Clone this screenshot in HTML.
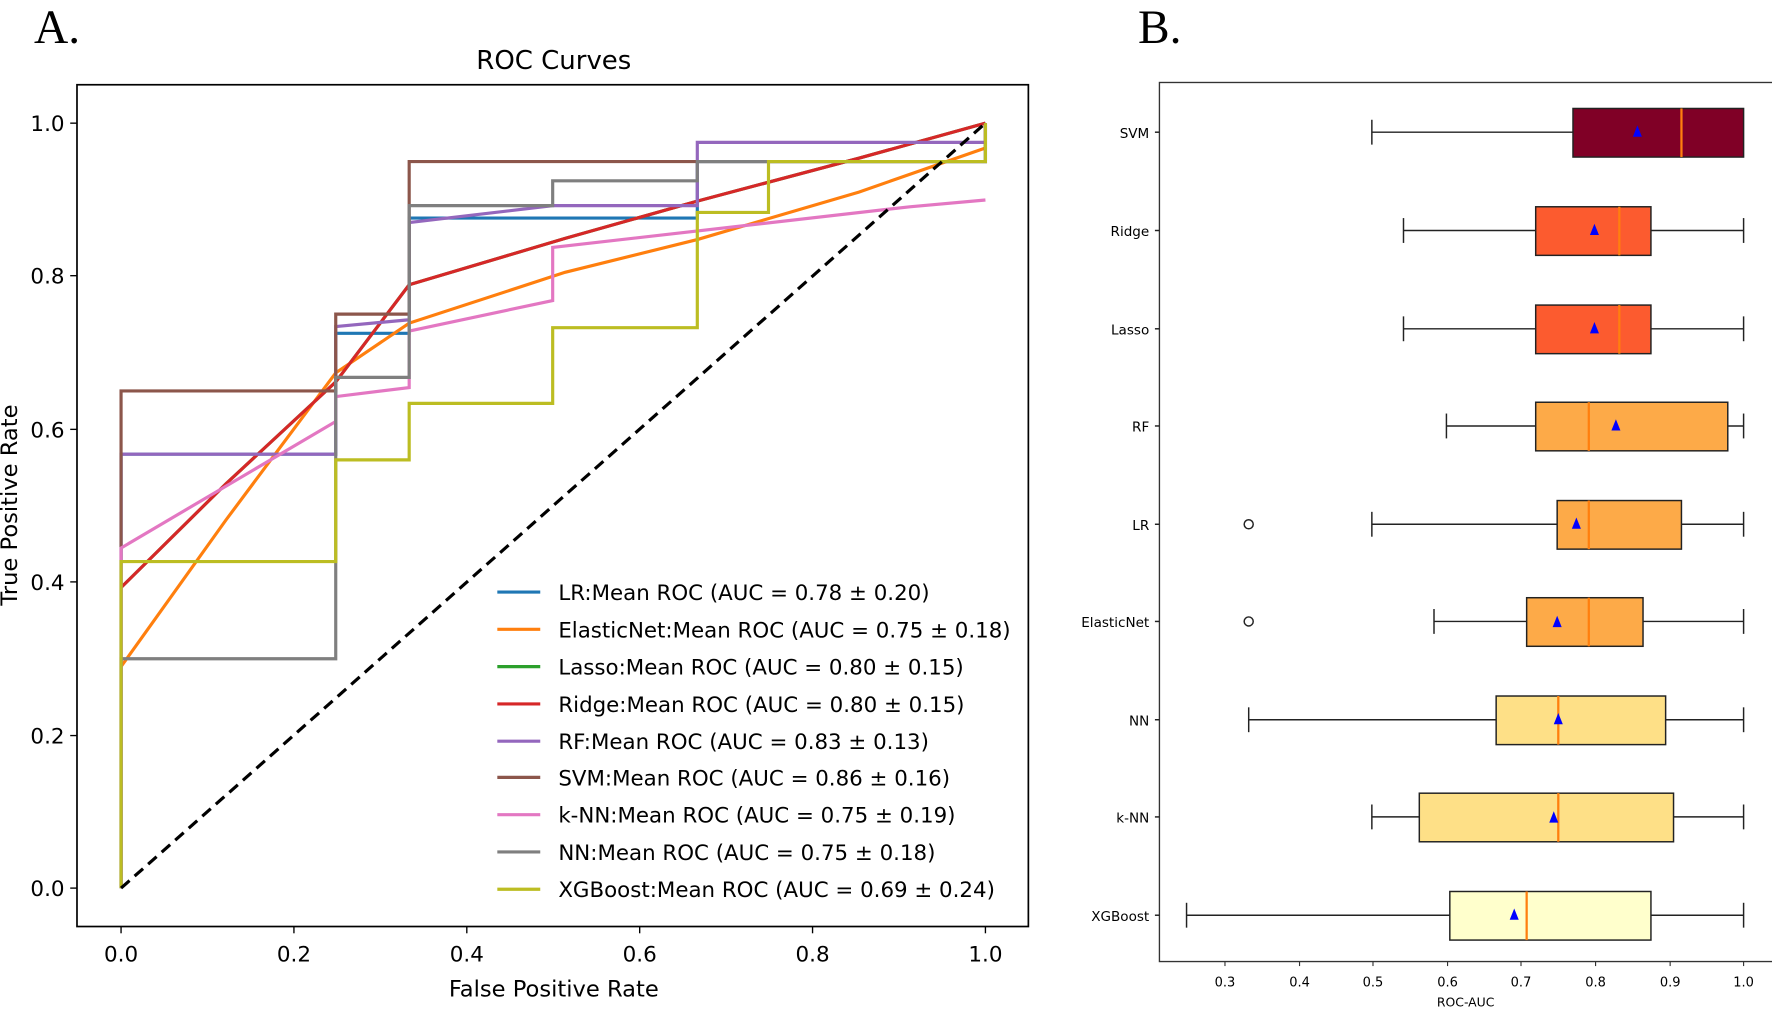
<!DOCTYPE html>
<html><head><meta charset="utf-8"><style>html,body{margin:0;padding:0;background:#fff}svg{display:block}</style></head>
<body>
<svg width="1772" height="1009" viewBox="0 0 1568 893" xmlns="http://www.w3.org/2000/svg" font-family="'DejaVu Sans','Liberation Sans',sans-serif">
<rect width="1568" height="893" fill="#fff"/>
<text x="30" y="38" font-family="'Liberation Serif',serif" font-size="42">A.</text>
<text x="1007" y="38" font-family="'Liberation Serif',serif" font-size="42">B.</text>
<!-- Left chart -->
<text x="490" y="61" font-size="23" text-anchor="middle">ROC Curves</text>
<g fill="none" stroke-width="2.8" stroke-linejoin="miter">
<path d="M107,786 V402 H297 V295 H362 V193 H617 V161 V143 H872 V109" stroke="#1f77b4"/>
<path d="M107,520 L200,428 L297,338 L362,252 L500,211 L617,178 L760,140 L872,109" stroke="#2ca02c"/>
<path d="M107,590 L200,460 L297,330 L362,286 L500,241 L617,212 L760,170 L872,131 V109" stroke="#ff7f0e"/>
<path d="M107,520 L200,428 L297,338 L362,252 L500,211 L617,178 L760,140 L872,109" stroke="#d62728"/>
<path d="M107,786 V402 H297 V289 L362,283 V197 L489,182 H617 V126 H872 V109" stroke="#9467bd"/>
<path d="M107,786 V346 H297 V278 H362 V143 H872 V109" stroke="#8c564b"/>
<path d="M107,786 V485 L297,373 V351 L362,343 V293 L489,266 V219 L805,183 L872,177" stroke="#e377c2"/>
<path d="M107,786 V583 H297 V334 H362 V182 H489 V160 H617 V143 H872 V109" stroke="#7f7f7f"/>
<path d="M107,786 V497 H297 V407 H362 V357 H489 V290 H617 V188 H680 V143 H872 V109" stroke="#bcbd22"/>
</g>
<line x1="107" y1="786" x2="872" y2="109" stroke="#000" stroke-width="2.8" stroke-dasharray="10,6"/>
<rect x="68" y="75" width="842" height="745" fill="none" stroke="#000" stroke-width="1.5"/>
<g stroke="#000" stroke-width="1.2">
<line x1="107" y1="820" x2="107" y2="826"/><line x1="260" y1="820" x2="260" y2="826"/><line x1="413" y1="820" x2="413" y2="826"/><line x1="566" y1="820" x2="566" y2="826"/><line x1="719" y1="820" x2="719" y2="826"/><line x1="872" y1="820" x2="872" y2="826"/>
<line x1="62" y1="786" x2="68" y2="786"/><line x1="62" y1="651" x2="68" y2="651"/><line x1="62" y1="515" x2="68" y2="515"/><line x1="62" y1="380" x2="68" y2="380"/><line x1="62" y1="244" x2="68" y2="244"/><line x1="62" y1="109" x2="68" y2="109"/>
</g>
<g font-size="19" text-anchor="middle">
<text x="107" y="851">0.0</text><text x="260" y="851">0.2</text><text x="413" y="851">0.4</text><text x="566" y="851">0.6</text><text x="719" y="851">0.8</text><text x="872" y="851">1.0</text>
</g>
<g font-size="19" text-anchor="end">
<text x="57" y="793">0.0</text><text x="57" y="658">0.2</text><text x="57" y="522">0.4</text><text x="57" y="387">0.6</text><text x="57" y="251">0.8</text><text x="57" y="116">1.0</text>
</g>
<text x="490" y="882" font-size="20" text-anchor="middle">False Positive Rate</text>
<text transform="translate(15,447) rotate(-90)" font-size="20" text-anchor="middle">True Positive Rate</text>
<g font-size="18.9" stroke-width="2.8">
<line x1="440" y1="524" x2="478" y2="524" stroke="#1f77b4"/><text x="494" y="531">LR:Mean ROC (AUC = 0.78 ± 0.20)</text>
<line x1="440" y1="557" x2="478" y2="557" stroke="#ff7f0e"/><text x="494" y="564">ElasticNet:Mean ROC (AUC = 0.75 ± 0.18)</text>
<line x1="440" y1="590" x2="478" y2="590" stroke="#2ca02c"/><text x="494" y="597">Lasso:Mean ROC (AUC = 0.80 ± 0.15)</text>
<line x1="440" y1="623" x2="478" y2="623" stroke="#d62728"/><text x="494" y="630">Ridge:Mean ROC (AUC = 0.80 ± 0.15)</text>
<line x1="440" y1="656" x2="478" y2="656" stroke="#9467bd"/><text x="494" y="663">RF:Mean ROC (AUC = 0.83 ± 0.13)</text>
<line x1="440" y1="688" x2="478" y2="688" stroke="#8c564b"/><text x="494" y="695">SVM:Mean ROC (AUC = 0.86 ± 0.16)</text>
<line x1="440" y1="721" x2="478" y2="721" stroke="#e377c2"/><text x="494" y="728">k-NN:Mean ROC (AUC = 0.75 ± 0.19)</text>
<line x1="440" y1="754" x2="478" y2="754" stroke="#7f7f7f"/><text x="494" y="761">NN:Mean ROC (AUC = 0.75 ± 0.18)</text>
<line x1="440" y1="787" x2="478" y2="787" stroke="#bcbd22"/><text x="494" y="794">XGBoost:Mean ROC (AUC = 0.69 ± 0.24)</text>
</g>
<!-- Right chart -->
<rect x="1026" y="73" width="545" height="778" fill="none" stroke="#333" stroke-width="1.2"/>
<g font-size="11.5" text-anchor="middle">
<text x="1084" y="873">0.3</text><text x="1150" y="873">0.4</text><text x="1215" y="873">0.5</text><text x="1281" y="873">0.6</text><text x="1346" y="873">0.7</text><text x="1412" y="873">0.8</text><text x="1478" y="873">0.9</text><text x="1543" y="873">1.0</text>
<text x="1297" y="891" font-size="11">ROC-AUC</text>
</g>
<g stroke="#333" stroke-width="1">
<line x1="1084" y1="851" x2="1084" y2="855"/><line x1="1150" y1="851" x2="1150" y2="855"/><line x1="1215" y1="851" x2="1215" y2="855"/><line x1="1281" y1="851" x2="1281" y2="855"/><line x1="1346" y1="851" x2="1346" y2="855"/><line x1="1412" y1="851" x2="1412" y2="855"/><line x1="1478" y1="851" x2="1478" y2="855"/><line x1="1543" y1="851" x2="1543" y2="855"/>
</g>
<g font-size="12" text-anchor="end">
<text x="1017" y="122">SVM</text><text x="1017" y="209">Ridge</text><text x="1017" y="296">Lasso</text><text x="1017" y="382">RF</text><text x="1017" y="469">LR</text><text x="1017" y="555">ElasticNet</text><text x="1017" y="642">NN</text><text x="1017" y="728">k-NN</text><text x="1017" y="815">XGBoost</text>
</g>
<g stroke="#222" stroke-width="1.3">
<g><line x1="1022" y1="117" x2="1026" y2="117"/><line x1="1214" y1="117" x2="1392" y2="117"/><line x1="1214" y1="106" x2="1214" y2="128"/><rect x="1392" y="96" width="151" height="43" fill="#800026"/><line x1="1488" y1="96" x2="1488" y2="139" stroke="#ff7f0e" stroke-width="2"/><polygon points="1449,111 1445,121 1453,121" fill="#0000ff" stroke="none"/></g>
<g><line x1="1022" y1="204" x2="1026" y2="204"/><line x1="1242" y1="204" x2="1359" y2="204"/><line x1="1461" y1="204" x2="1543" y2="204"/><line x1="1242" y1="193" x2="1242" y2="215"/><line x1="1543" y1="193" x2="1543" y2="215"/><rect x="1359" y="183" width="102" height="43" fill="#fc5b2f"/><line x1="1433" y1="183" x2="1433" y2="226" stroke="#ff7f0e" stroke-width="2"/><polygon points="1411,198 1407,208 1415,208" fill="#0000ff" stroke="none"/></g>
<g><line x1="1022" y1="291" x2="1026" y2="291"/><line x1="1242" y1="291" x2="1359" y2="291"/><line x1="1461" y1="291" x2="1543" y2="291"/><line x1="1242" y1="280" x2="1242" y2="302"/><line x1="1543" y1="280" x2="1543" y2="302"/><rect x="1359" y="270" width="102" height="43" fill="#fc5b2f"/><line x1="1433" y1="270" x2="1433" y2="313" stroke="#ff7f0e" stroke-width="2"/><polygon points="1411,285 1407,295 1415,295" fill="#0000ff" stroke="none"/></g>
<g><line x1="1022" y1="377" x2="1026" y2="377"/><line x1="1280" y1="377" x2="1359" y2="377"/><line x1="1529" y1="377" x2="1543" y2="377"/><line x1="1280" y1="366" x2="1280" y2="388"/><line x1="1543" y1="366" x2="1543" y2="388"/><rect x="1359" y="356" width="170" height="43" fill="#fdaa48"/><line x1="1406" y1="356" x2="1406" y2="399" stroke="#ff7f0e" stroke-width="2"/><polygon points="1430,371 1426,381 1434,381" fill="#0000ff" stroke="none"/></g>
<g><line x1="1022" y1="464" x2="1026" y2="464"/><circle cx="1105" cy="464" r="4" fill="none"/><line x1="1214" y1="464" x2="1378" y2="464"/><line x1="1488" y1="464" x2="1543" y2="464"/><line x1="1214" y1="453" x2="1214" y2="475"/><line x1="1543" y1="453" x2="1543" y2="475"/><rect x="1378" y="443" width="110" height="43" fill="#fdaa48"/><line x1="1406" y1="443" x2="1406" y2="486" stroke="#ff7f0e" stroke-width="2"/><polygon points="1395,458 1391,468 1399,468" fill="#0000ff" stroke="none"/></g>
<g><line x1="1022" y1="550" x2="1026" y2="550"/><circle cx="1105" cy="550" r="4" fill="none"/><line x1="1269" y1="550" x2="1351" y2="550"/><line x1="1454" y1="550" x2="1543" y2="550"/><line x1="1269" y1="539" x2="1269" y2="561"/><line x1="1543" y1="539" x2="1543" y2="561"/><rect x="1351" y="529" width="103" height="43" fill="#fdaa48"/><line x1="1406" y1="529" x2="1406" y2="572" stroke="#ff7f0e" stroke-width="2"/><polygon points="1378,545 1374,555 1382,555" fill="#0000ff" stroke="none"/></g>
<g><line x1="1022" y1="637" x2="1026" y2="637"/><line x1="1105" y1="637" x2="1324" y2="637"/><line x1="1474" y1="637" x2="1543" y2="637"/><line x1="1105" y1="626" x2="1105" y2="648"/><line x1="1543" y1="626" x2="1543" y2="648"/><rect x="1324" y="616" width="150" height="43" fill="#fee087"/><line x1="1379" y1="616" x2="1379" y2="659" stroke="#ff7f0e" stroke-width="2"/><polygon points="1379,631 1375,641 1383,641" fill="#0000ff" stroke="none"/></g>
<g><line x1="1022" y1="723" x2="1026" y2="723"/><line x1="1214" y1="723" x2="1256" y2="723"/><line x1="1481" y1="723" x2="1543" y2="723"/><line x1="1214" y1="712" x2="1214" y2="734"/><line x1="1543" y1="712" x2="1543" y2="734"/><rect x="1256" y="702" width="225" height="43" fill="#fee087"/><line x1="1379" y1="702" x2="1379" y2="745" stroke="#ff7f0e" stroke-width="2"/><polygon points="1375,718 1371,728 1379,728" fill="#0000ff" stroke="none"/></g>
<g><line x1="1022" y1="810" x2="1026" y2="810"/><line x1="1050" y1="810" x2="1283" y2="810"/><line x1="1461" y1="810" x2="1543" y2="810"/><line x1="1050" y1="799" x2="1050" y2="821"/><line x1="1543" y1="799" x2="1543" y2="821"/><rect x="1283" y="789" width="178" height="43" fill="#ffffcc"/><line x1="1351" y1="789" x2="1351" y2="832" stroke="#ff7f0e" stroke-width="2"/><polygon points="1340,804 1336,814 1344,814" fill="#0000ff" stroke="none"/></g>
</g>
</svg>
</body></html>
